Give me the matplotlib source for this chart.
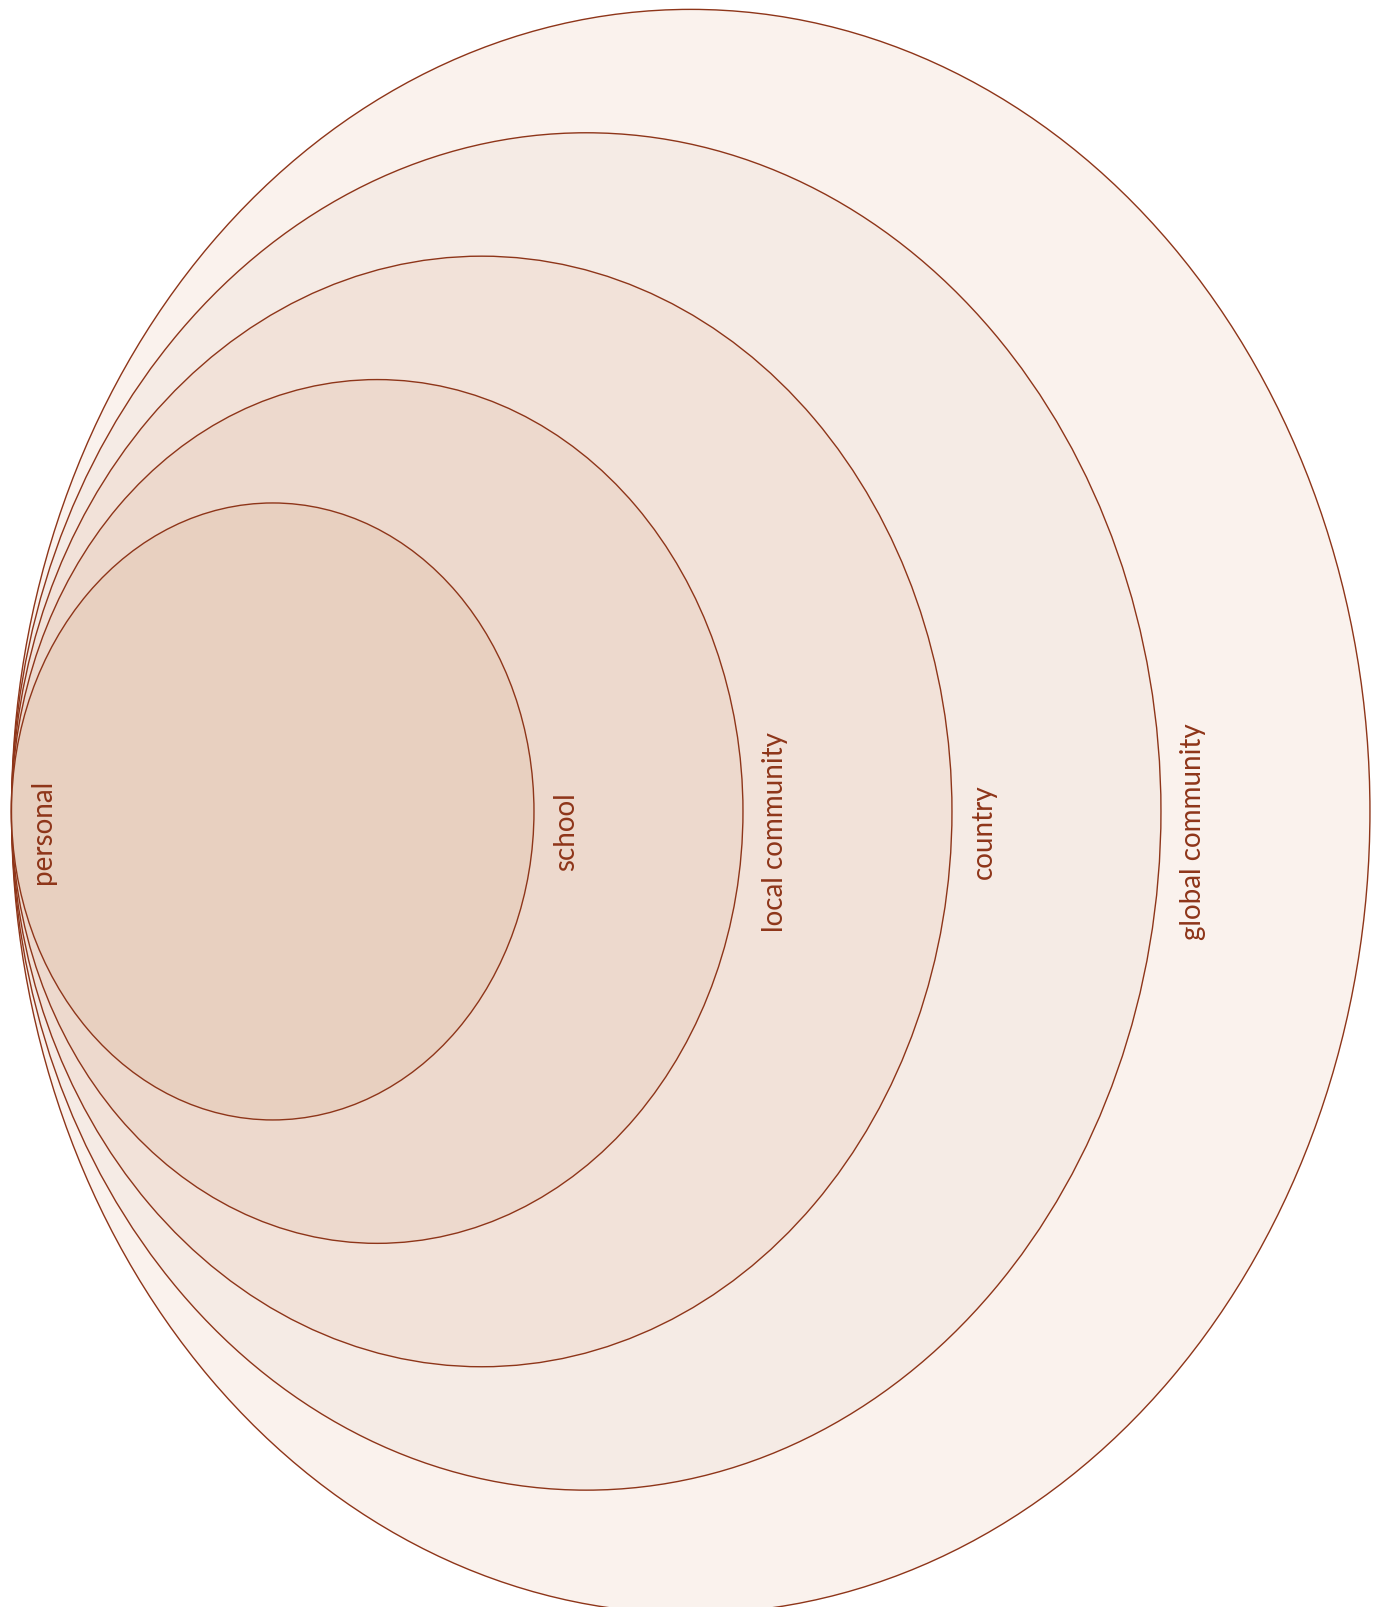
import matplotlib
matplotlib.use("Agg")
import matplotlib.pyplot as plt
from matplotlib.patches import Ellipse

# Data: nested rings (innermost first)
labels = ["personal", "school", "local community", "country", "global community"]
diameters = [5, 7, 9, 11, 13]
fill_colors = ["#E8D0C0", "#EDD9CD", "#F2E2D9", "#F5EBE5", "#FAF2ED"]

edge_color = "#8E3519"
text_color = "#8E3519"

fig = plt.figure(figsize=(13.78, 16.07), dpi=100)
ax = fig.add_axes([0, 0, 1, 1])
ax.set_xlim(-0.110, 13.077)
ax.set_ylim(-6.447, 6.576)
ax.axis("off")

# draw largest first so smaller ones sit on top
for d, c in sorted(zip(diameters, fill_colors), reverse=True):
    ax.add_patch(Ellipse((d / 2, 0), d, d, facecolor=c, edgecolor=edge_color,
                         linewidth=1.0, zorder=d and 20 - d))

# labels: each placed just to the right of the previous ring's edge
prev = [0] + diameters[:-1]
for lab, p in zip(labels, prev):
    ax.text(p + 0.18, -0.166, lab, rotation=90, ha="left", va="center",
            fontsize=20, family=["Lato", "DejaVu Sans"], color=text_color, zorder=30)

fig.savefig("out.png", dpi=100)
